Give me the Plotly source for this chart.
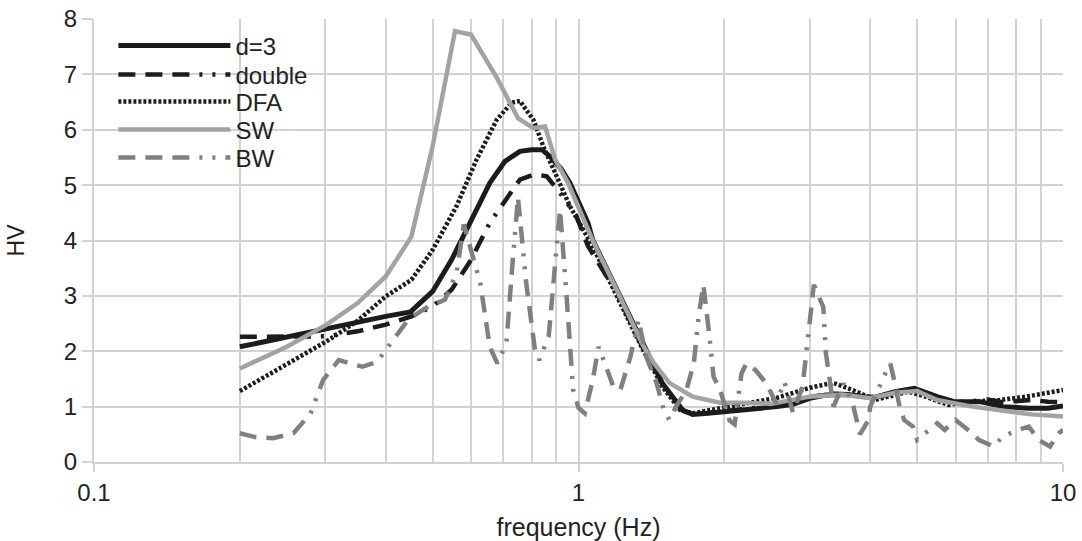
import plotly.graph_objects as go

# ---- data ----
d3_f = [0.2, 0.25, 0.30, 0.35, 0.40, 0.45, 0.50, 0.547, 0.60, 0.656, 0.705, 0.757, 0.80, 0.84,
        0.873, 0.92, 0.96, 1.0, 1.046, 1.07, 1.2, 1.3, 1.36, 1.49, 1.64, 1.72, 1.85, 2.02, 2.3,
        2.57, 2.77, 3.0, 3.24, 3.6, 3.9, 4.1, 4.5, 4.93, 5.5, 5.96, 6.74, 7.5, 8.5, 9.3, 10]
d3_v = [2.08, 2.26, 2.42, 2.53, 2.63, 2.71, 3.08, 3.65, 4.38, 5.04, 5.43, 5.61, 5.64, 5.64,
        5.52, 5.30, 5.04, 4.70, 4.32, 4.01, 3.11, 2.47, 2.09, 1.42, 0.94, 0.86, 0.88, 0.91, 0.95,
        1.00, 1.04, 1.15, 1.21, 1.22, 1.18, 1.17, 1.27, 1.33, 1.18, 1.09, 1.09, 1.00, 0.97, 0.97, 1.01]

double_f = [0.2, 0.25, 0.302, 0.35, 0.40, 0.452, 0.50, 0.547, 0.60, 0.656, 0.711, 0.757, 0.807,
            0.86, 0.916, 0.99, 1.046, 1.2, 1.36, 1.49, 1.64, 1.72, 2.02, 2.57, 3.0, 3.3, 3.7,
            4.1, 4.5, 4.93, 5.5, 6.0, 6.5, 7.0, 7.5, 8.0, 8.6, 9.3, 10]
double_v = [2.26, 2.27, 2.27, 2.36, 2.48, 2.63, 2.81, 3.11, 3.65, 4.32, 4.74, 5.10, 5.19,
            5.16, 4.86, 4.44, 3.90, 3.05, 2.05, 1.40, 0.93, 0.86, 0.92, 1.02, 1.17, 1.24, 1.22,
            1.15, 1.26, 1.32, 1.16, 1.08, 1.10, 1.13, 1.08, 1.10, 1.12, 1.09, 1.08]

dfa_f = [0.2, 0.25, 0.302, 0.35, 0.40, 0.452, 0.50, 0.56, 0.616, 0.678, 0.728, 0.757, 0.807,
         0.846, 0.90, 0.96, 1.07, 1.2, 1.36, 1.49, 1.62, 1.72, 2.02, 2.57, 3.0, 3.35, 3.68,
         4.1, 4.5, 4.8, 5.2, 5.8, 6.5, 7.4, 8.4, 9.2, 10]
dfa_v = [1.28, 1.76, 2.18, 2.55, 2.99, 3.29, 3.83, 4.62, 5.46, 6.18, 6.49, 6.52, 6.18,
         5.70, 5.16, 4.62, 3.89, 2.99, 2.02, 1.36, 0.94, 0.88, 1.00, 1.16, 1.34, 1.43, 1.30,
         1.12, 1.21, 1.27, 1.18, 1.03, 1.09, 1.12, 1.18, 1.25, 1.30]

sw_f = [0.2, 0.25, 0.302, 0.35, 0.40, 0.452, 0.50, 0.556, 0.60, 0.678, 0.75, 0.807, 0.853,
        0.895, 0.95, 1.0, 1.07, 1.2, 1.36, 1.43, 1.54, 1.72, 1.96, 2.15, 2.5, 3.0, 3.5, 4.0,
        4.5, 5.0, 5.5, 6.5, 7.9, 8.6, 10]
sw_v = [1.69, 2.08, 2.48, 2.87, 3.35, 4.07, 5.70, 7.78, 7.72, 6.94, 6.21, 6.03, 6.06,
        5.46, 5.05, 4.60, 4.00, 3.10, 2.10, 1.79, 1.43, 1.18, 1.07, 1.07, 1.05, 1.18, 1.22, 1.15,
        1.25, 1.28, 1.12, 1.00, 0.91, 0.86, 0.82]

bw_f = [0.2, 0.215, 0.234, 0.258, 0.28, 0.297, 0.32, 0.34, 0.358, 0.384, 0.41, 0.445, 0.49,
        0.53, 0.56, 0.58, 0.627, 0.656, 0.68, 0.71, 0.73, 0.75, 0.78, 0.813, 0.83, 0.868,
        0.894, 0.916, 0.946, 0.975, 1.0, 1.03, 1.07, 1.10, 1.14, 1.18, 1.22, 1.28, 1.33,
        1.38, 1.45, 1.50, 1.54, 1.59, 1.67, 1.73, 1.77, 1.81, 1.86, 1.90, 1.96, 2.05, 2.10,
        2.17, 2.22, 2.32, 2.44, 2.56, 2.66, 2.77, 2.9, 2.98, 3.06, 3.2, 3.24, 3.36, 3.52,
        3.68, 3.81, 3.97, 4.0, 4.3, 4.4, 4.5, 4.6, 4.7, 4.9, 5.0, 5.3, 5.5, 5.7, 6.0, 6.5,
        6.7, 7.2, 7.5, 8.1, 8.5, 8.9, 9.4, 9.8, 10]
bw_v = [0.52, 0.45, 0.43, 0.52, 0.88, 1.48, 1.84, 1.78, 1.72, 1.81, 2.15, 2.57, 2.81,
        2.93, 3.41, 4.29, 3.23, 2.08, 1.78, 2.15, 3.53, 4.78, 3.23, 2.03, 1.84, 2.27,
        3.53, 4.56, 2.93, 1.30, 0.98, 0.88, 1.48, 2.08, 1.72, 1.36, 1.30, 1.90, 2.57,
        1.90, 1.42, 0.94, 0.76, 1.00, 1.30, 1.78, 2.63, 3.20, 2.33, 1.54, 1.30, 0.75, 0.68,
        1.60, 1.78, 1.66, 1.42, 1.06, 1.45, 0.90, 1.36, 2.27, 3.20, 2.80, 1.97, 1.00, 1.42,
        1.06, 0.50, 0.76, 1.00, 1.60, 1.78, 1.42, 1.00, 0.76, 0.64, 0.40, 0.58, 0.70, 0.58,
        0.76, 0.52, 0.40, 0.28, 0.46, 0.58, 0.64, 0.40, 0.28, 0.52, 0.58]

series_names = ["d=3", "double", "DFA", "SW", "BW"]
x_tick_vals = [0.1, 1, 10]
x_tick_text = ["0.1", "1", "10"]
x_minor_vals = [0.2, 0.3, 0.4, 0.5, 0.6, 0.7, 0.8, 0.9, 2, 3, 4, 5, 6, 7, 8, 9]

BLACK = "#1c1c1c"
LIGHT = "#a3a3a3"
MID = "#808080"
LDDD = "17px,10px,17px,10px,17px,10px,3px,10px,3px,10px"
GRID = "#d2d2d2"
FONT = "Liberation Sans, Arial, sans-serif"
TXT = "#222222"

styles = [
    dict(color=BLACK, width=5),
    dict(color=BLACK, width=4.5, dash=LDDD),
    dict(color=BLACK, width=4.5, dash="3px,2px"),
    dict(color=LIGHT, width=4.5),
    dict(color=MID, width=4.5, dash=LDDD),
]
xs = [d3_f, double_f, dfa_f, sw_f, bw_f]
ys = [d3_v, double_v, dfa_v, sw_v, bw_v]
legend_ids = ["legend", "legend2", "legend3", "legend4", "legend5"]

fig = go.Figure()
for name, x, y, st, lg in zip(series_names, xs, ys, styles, legend_ids):
    fig.add_trace(go.Scatter(x=x, y=y, name=name, mode="lines", line=st, legend=lg))

W, H = 1082, 541
ML, MT, MR, MB = 94, 19, 19, 79
plot_w = W - ML - MR
plot_h = H - MT - MB
row_centers_px = [46, 75, 102, 130, 158]  # pixel rows of the legend entries

legend_common = dict(x=0.020, xanchor="left", yanchor="middle",
                     bgcolor="rgba(0,0,0,0)", borderwidth=0,
                     font=dict(family=FONT, size=24, color=TXT),
                     itemwidth=112)
legends = {}
for lg, yc in zip(legend_ids, row_centers_px):
    legends[lg] = dict(legend_common, y=(H - MB - yc) / plot_h)

fig.update_layout(
    template="none",
    width=W, height=H,
    margin=dict(l=ML, r=MR, t=MT, b=MB, autoexpand=False),
    paper_bgcolor="white", plot_bgcolor="white",
    font=dict(family=FONT, size=22, color=TXT),
    showlegend=True,
    xaxis=dict(type="log", range=[-1, 1], automargin=False,
               tickmode="array", tickvals=x_tick_vals, ticktext=x_tick_text,
               ticks="outside", ticklen=8, tickwidth=1.5, tickcolor=GRID,
               showgrid=True, gridcolor=GRID, gridwidth=1.5,
               minor=dict(tickmode="array", tickvals=x_minor_vals, showgrid=True,
                          gridcolor=GRID, gridwidth=1.5, ticks=""),
               showline=True, linecolor=GRID, linewidth=2,
               zeroline=False, ticklabeloverflow="allow",
               title=dict(text="frequency (Hz)", font=dict(size=25), standoff=15),
               tickfont=dict(size=24)),
    yaxis=dict(range=[0, 8], dtick=1, tick0=0, automargin=False,
               ticks="outside", ticklen=10, tickwidth=1.5, tickcolor=GRID,
               showgrid=True, gridcolor=GRID, gridwidth=1.5,
               showline=True, linecolor=GRID, linewidth=2,
               zeroline=False, ticklabeloverflow="allow",
               title=dict(text="HV", font=dict(size=23), standoff=33),
               tickfont=dict(size=24)),
    shapes=[dict(type="rect", xref="paper", yref="paper", layer="between",
                 x0=(110 - ML) / plot_w, x1=(322 - ML) / plot_w,
                 y0=(H - MB - 180) / plot_h, y1=(H - MB - 30) / plot_h,
                 fillcolor="white", line=dict(width=0))],
    **legends,
)

# remove the page's default body margin so the figure fills the window exactly
fig.write_html("out.html", config={"displayModeBar": False},
               post_script="document.body.style.margin='0px';document.body.style.overflow='hidden';")
